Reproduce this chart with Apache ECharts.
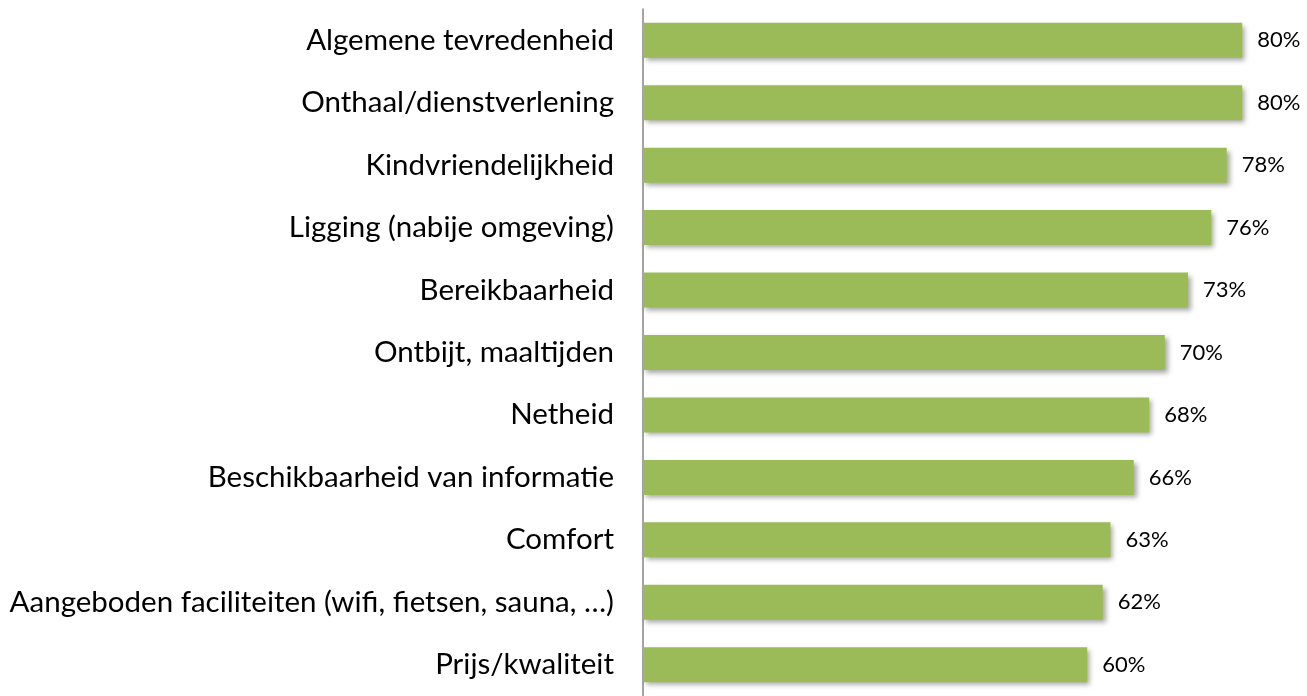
<!DOCTYPE html>
<html>
<head>
<meta charset="utf-8">
<script src="https://cdn.jsdelivr.net/npm/echarts@6/dist/echarts.min.js"></script>
<style>
html,body{margin:0;padding:0;background:#fff;}
#chart{width:1307px;height:696px;}
</style>
</head>
<body>
<div id="chart"></div>
<script>
const categories = [
  'Algemene tevredenheid',
  'Onthaal/dienstverlening',
  'Kindvriendelijkheid',
  'Ligging (nabije omgeving)',
  'Bereikbaarheid',
  'Ontbijt, maaltijden',
  'Netheid',
  'Beschikbaarheid van informatie',
  'Comfort',
  'Aangeboden faciliteiten (wifi, fietsen, sauna, \u2026)',
  'Prijs/kwaliteit'
];
const values = [80, 80, 78, 76, 73, 70, 68, 66, 63, 62, 60];

const chart = echarts.init(document.getElementById('chart'));
chart.setOption({
  animation: false,
  grid: { left: 643, right: 26, top: 9, bottom: -5, containLabel: false },
  xAxis: {
    type: 'value', min: 2.7, max: 85,
    show: false
  },
  yAxis: {
    type: 'category',
    data: categories,
    inverse: true,
    axisLine: { show: true, lineStyle: { color: '#868686', width: 1.5 } },
    axisTick: { show: false },
    axisLabel: { color: '#000', fontFamily: 'Lato', fontSize: 29.5, margin: 29 }
  },
  series: [{
    type: 'bar',
    data: values,
    barWidth: 35,
    itemStyle: {
      color: '#9BBB59',
      shadowColor: 'rgba(0,0,0,0.35)',
      shadowBlur: 5,
      shadowOffsetX: 3,
      shadowOffsetY: 3
    },
    label: {
      show: true, position: 'right', distance: 15,
      color: '#000', fontFamily: 'Lato', fontSize: 22,
      formatter: p => p.value + '%'
    }
  }]
});
</script>
</body>
</html>
